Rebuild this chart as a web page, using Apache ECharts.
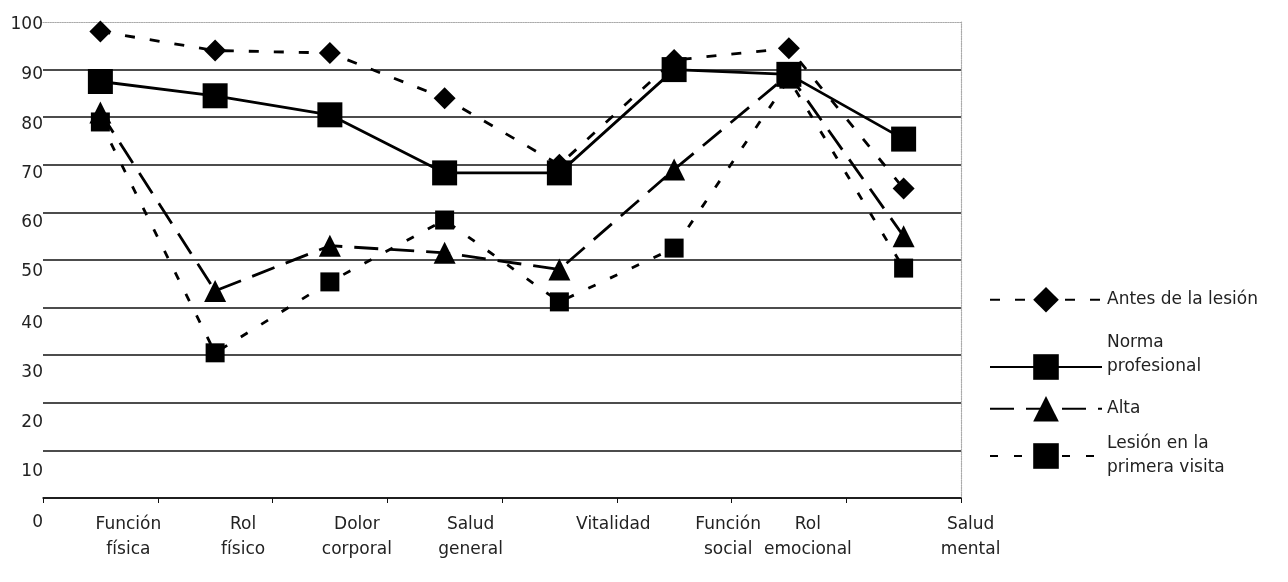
<!DOCTYPE html>
<html>
  <head>
    <meta charset="utf-8" />
    <title>ECharts</title>
    <script src="https://cdn.jsdelivr.net/npm/echarts@6/dist/echarts.min.js"></script>
    <style>
      html, body { margin: 0; padding: 0; background: #fff; }
      #main { width: 1288px; height: 582px; }
    </style>
  </head>
  <body>
    <div id="main"></div>
    <script type="text/javascript">
// categorias del eje x
let categories = ['Función\nfísica', 'Rol\nfísico', 'Dolor\ncorporal', 'Salud\ngeneral',
  'Vitalidad', 'Función\nsocial', 'Rol\nemocional', 'Salud\nmental'];
// valores de cada serie
let antes = [98, 94, 93.5, 84, 70, 92, 94.5, 65];
let norma = [87.5, 84.5, 80.5, 68.3, 68.3, 90, 89, 75.4];
let alta = [81, 43.5, 53, 51.5, 48, 69, 89, 55];
let lesion = [79, 30.5, 45.4, 58.4, 41.2, 52.5, 88, 48.3];
let seriesNames = ['Antes de la lesión', 'Norma\nprofesional', 'Alta', 'Lesión en la\nprimera visita'];

// desplazamiento de las etiquetas (como en la imagen escaneada)
let xLabelShift = [28, 28, 27, 26, 54, 54, 19, 67];
let yLabelShift = { 0: 25, 10: 21, 20: 20, 30: 17, 40: 16, 50: 12, 60: 10, 70: 9, 80: 7, 90: 5, 100: 3 };

var font = 'DejaVu Sans';
var xRich = {};
xLabelShift.forEach(function (s, i) {
  xRich['c' + i] = { padding: [0, 0, 0, s * 2], lineHeight: 25, fontSize: 17, fontFamily: font, color: '#222' };
});
var yRich = {};
Object.keys(yLabelShift).forEach(function (v) {
  yRich['v' + v] = { padding: [yLabelShift[v] * 2, 0, 0, 0], fontSize: 17, fontFamily: font, color: '#222' };
});
var splitColors = [];
for (let i = 0; i < 11; i++) splitColors.push(i < 10 ? '#111' : 'rgba(0,0,0,0)');

var myChart = echarts.init(document.getElementById('main'));

function lineSeries(i, data, symbol, size, dash) {
  return {
    name: seriesNames[i],
    type: 'line',
    data: data,
    symbol: symbol,
    symbolSize: size,
    z: 10 - i,
    itemStyle: { color: '#000' },
    lineStyle: { color: '#000', width: 2.8, type: dash },
    emphasis: { disabled: true }
  };
}

function legendAt(i, top, formatter) {
  var lg = {
    data: [seriesNames[i]],
    left: 984,
    top: top,
    itemWidth: 112,
    itemHeight: 32,
    selectedMode: false,
    textStyle: { fontSize: 17, fontFamily: font, color: '#222', lineHeight: 24 }
  };
  if (formatter) lg.formatter = formatter;
  return lg;
}

option = {
  animation: false,
  backgroundColor: '#fff',
  grid: { left: 43, right: 327, top: 22, bottom: 84 },
  legend: [
    legendAt(0, 282),
    legendAt(1, 326, function (name) { return name + '\n '; }),
    legendAt(2, 391),
    legendAt(3, 427)
  ],
  xAxis: [
    {
      type: 'category',
      data: categories,
      boundaryGap: true,
      axisLine: { lineStyle: { color: '#111', width: 1.5 } },
      axisTick: { show: true, length: 5, lineStyle: { color: '#111' } },
      axisLabel: {
        margin: 14,
        interval: 0,
        formatter: function (value, index) {
          return '{c' + index + '|' + value + '}';
        },
        rich: xRich
      }
    },
    {
      type: 'category',
      position: 'top',
      data: categories,
      axisLine: { onZero: false, lineStyle: { color: '#aaa', type: 'dotted', width: 1.2 } },
      axisTick: { show: false },
      axisLabel: { show: false }
    }
  ],
  yAxis: [
    {
      type: 'value',
      min: 0,
      max: 100,
      interval: 10,
      axisLine: { show: false },
      axisTick: { show: false },
      splitLine: { lineStyle: { color: splitColors, width: 1.5 } },
      axisLabel: {
        margin: 0,
        formatter: function (value) {
          return '{v' + value + '|' + value + '}';
        },
        rich: yRich
      }
    },
    {
      type: 'value',
      position: 'right',
      min: 0,
      max: 100,
      interval: 10,
      axisLine: { show: true, onZero: false, lineStyle: { color: '#aaa', type: 'dotted', width: 1.2 } },
      axisTick: { show: false },
      axisLabel: { show: false },
      splitLine: { show: false }
    }
  ],
  series: [
    lineSeries(0, antes, 'diamond', 22, [10, 15]),
    lineSeries(1, norma, 'rect', 25, 'solid'),
    lineSeries(2, alta, 'triangle', 22, [24, 12]),
    lineSeries(3, lesion, 'rect', 19, [8, 16])
  ]
};

myChart.setOption(option);
    </script>
  </body>
</html>
